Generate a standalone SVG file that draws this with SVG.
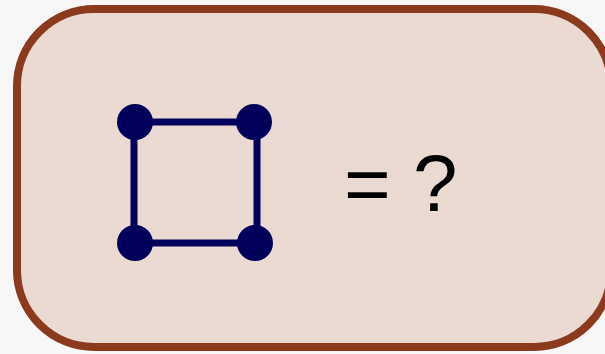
<svg xmlns="http://www.w3.org/2000/svg" width="605" height="354" viewBox="0 0 605 354">
<style>
.edge{stroke:#00005a;stroke-width:7;fill:none}
.node{fill:#00005a}
.lbl{font-family:"Liberation Sans",Arial,sans-serif;font-size:80px;fill:#000}
</style>
<rect x="0" y="0" width="605" height="354" fill="#f7f7f7"/>
<rect id="frame" x="17" y="9" width="594" height="338" rx="77" ry="77" fill="#eadad2" stroke="#8b3a1e" stroke-width="8"/>
<g id="connectors">
<line class="edge" x1="135" y1="122" x2="254" y2="122"/>
<line class="edge" x1="135" y1="243" x2="255" y2="243"/>
<line class="edge" x1="134" y1="122" x2="134" y2="243"/>
<line class="edge" x1="257" y1="122" x2="257" y2="243"/>
</g>
<g id="n1"><circle class="node" cx="135" cy="122" r="18"/></g>
<g id="n2"><circle class="node" cx="254" cy="122" r="18"/></g>
<g id="n3"><circle class="node" cx="135" cy="243" r="18"/></g>
<g id="n4"><circle class="node" cx="255" cy="243" r="18"/></g>
<text class="lbl" x="344" y="211">= ?</text>
</svg>
